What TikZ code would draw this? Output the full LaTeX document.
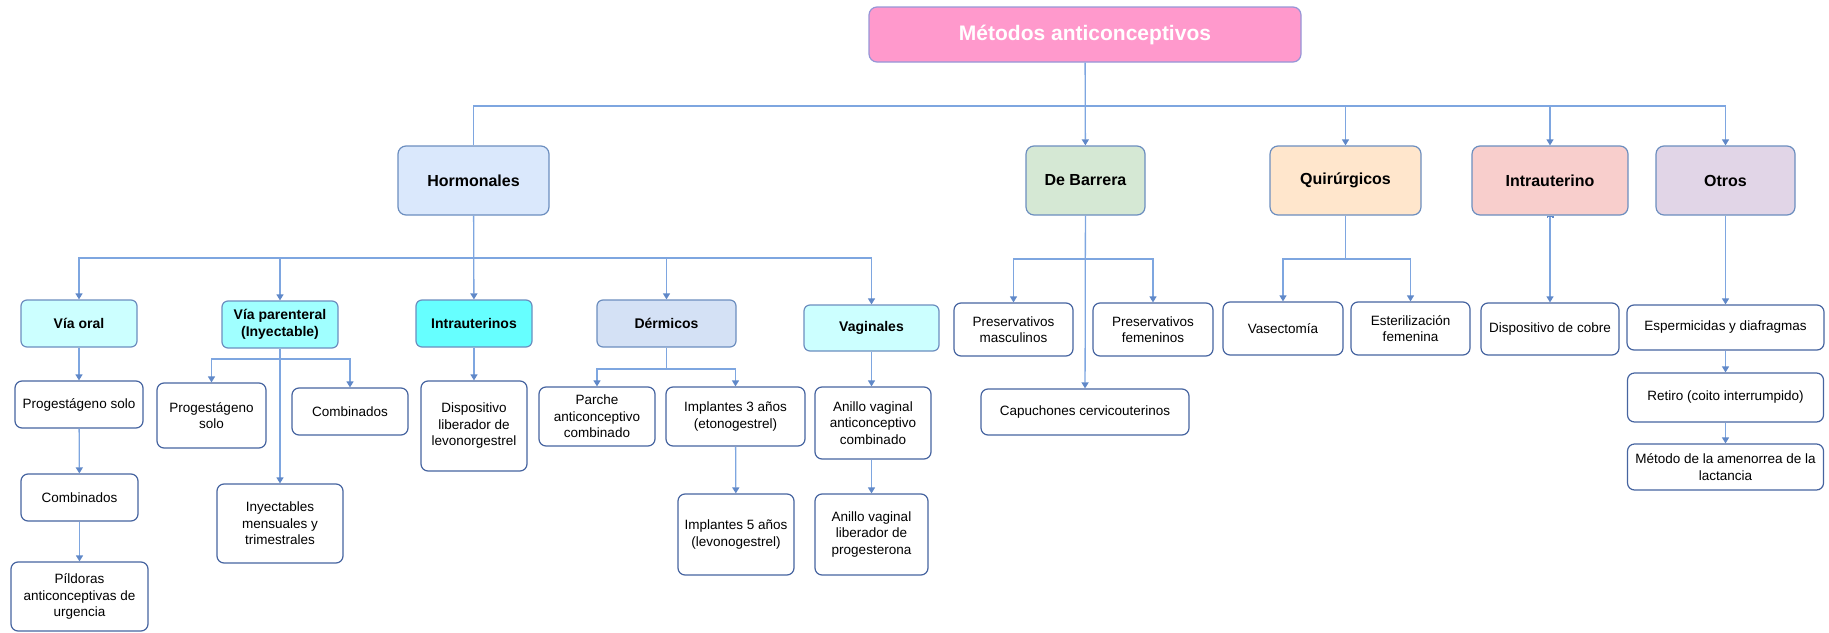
\documentclass[tikz,border=0pt]{standalone}
\usepackage{fontspec}
\setmainfont{Liberation Sans}
\usetikzlibrary{arrows.meta}

\definecolor{linea}{RGB}{126,166,224}
\definecolor{punta}{RGB}{96,136,200}
\definecolor{borde}{RGB}{108,142,191}
\definecolor{bordeosc}{RGB}{70,100,160}
\definecolor{rosa}{RGB}{255,153,204}
\definecolor{bordrosa}{RGB}{150,150,215}
\definecolor{azulclaro}{RGB}{218,232,252}
\definecolor{verdeclaro}{RGB}{213,232,212}
\definecolor{naranjaclaro}{RGB}{255,230,204}
\definecolor{rojoclaro}{RGB}{248,206,204}
\definecolor{lilaclaro}{RGB}{225,213,231}
\definecolor{cian}{RGB}{204,255,255}
\definecolor{cianmedio}{RGB}{160,255,255}
\definecolor{cianfuerte}{RGB}{102,255,255}
\definecolor{dermico}{RGB}{212,225,245}

\begin{document}
\begin{tikzpicture}[x=1pt,y=-1pt,
  raiz/.style={draw=bordrosa,fill=rosa,rounded corners=8pt,line width=1.2pt,text=white,
    font=\fontsize{21}{25}\selectfont\bfseries},
  grupo/.style={draw=borde,rounded corners=8pt,line width=1.2pt,
    font=\fontsize{16}{19}\selectfont\bfseries},
  via/.style={draw=borde,rounded corners=6pt,line width=1.2pt,align=center,
    font=\fontsize{14}{17}\selectfont\bfseries},
  caja/.style={draw=bordeosc,fill=white,rounded corners=7pt,line width=1.2pt,align=center,
    inner sep=2pt,font=\fontsize{13.5}{16.5}\selectfont},
  con/.style={draw=linea,line width=1.3pt},
  flecha/.style={con,-{Triangle[width=7pt,length=6pt,color=punta]}}]

\useasboundingbox (0,0) rectangle (1829,632);

% raiz y primer nivel
\node[raiz,minimum width=432,minimum height=55] (root) at (1085,34.5) {Métodos anticonceptivos};

\node[grupo,fill=azulclaro,minimum width=151,minimum height=69] (horm) at (473.5,180.5) {Hormonales};
\node[grupo,fill=verdeclaro,minimum width=119,minimum height=69] (barr) at (1085.5,180.5) {De Barrera};
\node[grupo,fill=naranjaclaro,minimum width=151,minimum height=69] (quir) at (1345.5,180.5) {Quirúrgicos};
\node[grupo,fill=rojoclaro,minimum width=156,minimum height=69] (intra) at (1550,180.5) {Intrauterino};
\node[grupo,fill=lilaclaro,minimum width=139,minimum height=69] (otros) at (1725.5,180.5) {Otros};

\coordinate (bus) at (1085,106);
\draw[flecha] (root) -- (barr);
\draw[con] (horm.north) |- (bus);
\foreach \n in {quir,intra,otros}
  \draw[flecha] (bus) -| (\n.north);

% hormonales
\node[via,fill=cian,minimum width=116,minimum height=47] (oral) at (79,323.5) {Vía oral};
\node[via,fill=cianmedio,minimum width=116,minimum height=47] (paren) at (280,324.5) {Vía parenteral\\(Inyectable)};
\node[via,fill=cianfuerte,minimum width=116,minimum height=47] (intras) at (474,323.5) {Intrauterinos};
\node[via,fill=dermico,minimum width=139,minimum height=47] (derm) at (666.5,323.5) {Dérmicos};
\node[via,fill=cian,minimum width=135,minimum height=46] (vag) at (871.5,328) {Vaginales};

\coordinate (hbus) at (473.5,258);
\draw[flecha] (horm) -- (intras);
\foreach \n in {oral,paren,derm,vag}
  \draw[flecha] (horm.south |- hbus) -| (\n.north);

\node[caja,minimum width=128,minimum height=47] (prog1) at (79,404.5) {Progestágeno solo};
\node[caja,minimum width=117,minimum height=47] (comb1) at (79.5,497.5) {Combinados};
\node[caja,minimum width=137,minimum height=69] (pild) at (79.5,596.5) {Píldoras\\anticonceptivas de\\urgencia};
\draw[flecha] (oral) -- (prog1);
\draw[flecha] (prog1) -- (comb1);
\draw[flecha] (comb1) -- (pild);

\node[caja,minimum width=109,minimum height=65] (prog2) at (211.5,415.5) {Progestágeno\\solo};
\node[caja,minimum width=116,minimum height=47] (comb2) at (350,411.5) {Combinados};
\node[caja,minimum width=126,minimum height=79] (inyec) at (280,523.5) {Inyectables\\mensuales y\\trimestrales};
\coordinate (pbus) at (280,359);
\draw[flecha] (paren) -- (inyec);
\foreach \n in {prog2,comb2}
  \draw[flecha] (pbus) -| (\n.north);

\node[caja,minimum width=106,minimum height=90] (disp) at (474,426) {Dispositivo\\liberador de\\levonorgestrel};
\draw[flecha] (intras) -- (disp);

\node[caja,minimum width=116,minimum height=59] (parche) at (597,416.5) {Parche\\anticonceptivo\\combinado};
\node[caja,minimum width=139,minimum height=59] (impl3) at (735.5,416.5) {Implantes 3 años\\(etonogestrel)};
\node[caja,minimum width=116,minimum height=81] (impl5) at (736,534.5) {Implantes 5 años\\(levonogestrel)};
\coordinate (dbus) at (666.5,369);
\draw[con] (derm) -- (dbus);
\foreach \n in {parche,impl3}
  \draw[flecha] (dbus) -| (\n.north);
\draw[flecha] (impl3) -- (impl5);

\node[caja,minimum width=116,minimum height=72] (anillo1) at (873,423) {Anillo vaginal\\anticonceptivo\\combinado};
\node[caja,minimum width=113,minimum height=81] (anillo2) at (871.5,534.5) {Anillo vaginal\\liberador de\\progesterona};
\draw[flecha] (vag.south) -- (vag.south |- anillo1.north);
\draw[flecha] (anillo1.south -| vag.south) -- (vag.south |- anillo2.north);

% de barrera
\node[caja,minimum width=119,minimum height=53] (presm) at (1013.5,329.5) {Preservativos\\masculinos};
\node[caja,minimum width=120,minimum height=53] (presf) at (1153,329.5) {Preservativos\\femeninos};
\node[caja,minimum width=208,minimum height=46] (capu) at (1085,412) {Capuchones cervicouterinos};
\coordinate (bbus) at (1085.5,259);
\draw[flecha] (barr) -- (capu);
\foreach \n in {presm,presf}
  \draw[flecha] (bbus) -| (\n.north);

% quirurgicos
\node[caja,minimum width=120,minimum height=53] (vasec) at (1283,328.5) {Vasectomía};
\node[caja,minimum width=119,minimum height=53] (ester) at (1410.5,328.5) {Esterilización\\femenina};
\coordinate (qbus) at (1345.5,259);
\draw[con] (quir) -- (qbus);
\foreach \n in {vasec,ester}
  \draw[flecha] (qbus) -| (\n.north);

% intrauterino
\node[caja,minimum width=138,minimum height=52] (cobre) at (1550,329) {Dispositivo de cobre};
\draw[con,{Bar[width=7pt,length=2pt,color=punta]}-{Triangle[width=7pt,length=6pt,color=punta]}] (intra) -- (cobre);

% otros
\node[caja,minimum width=197,minimum height=45] (esper) at (1725.5,327.5) {Espermicidas y diafragmas};
\node[caja,minimum width=196,minimum height=49] (retiro) at (1725.5,397.5) {Retiro (coito interrumpido)};
\node[caja,minimum width=196,minimum height=46] (metodo) at (1725.5,467) {Método de la amenorrea de la\\lactancia};
\draw[flecha] (otros) -- (esper);
\draw[flecha] (esper) -- (retiro);
\draw[flecha] (retiro) -- (metodo);

\end{tikzpicture}
\end{document}
